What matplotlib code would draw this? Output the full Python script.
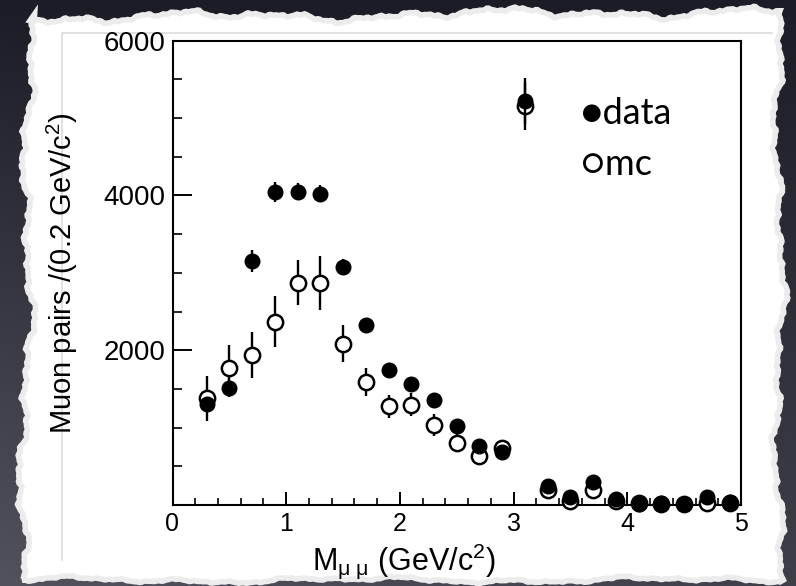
import numpy as np
import matplotlib
matplotlib.use("Agg")
import matplotlib.pyplot as plt
from matplotlib.ticker import MultipleLocator, FixedLocator
from matplotlib.patches import Polygon

plt.rcParams['font.family'] = ['Liberation Sans', 'DejaVu Sans']
plt.rcParams['mathtext.fontset'] = 'custom'
plt.rcParams['mathtext.rm'] = 'Liberation Sans'
plt.rcParams['mathtext.it'] = 'Liberation Sans'

# ---- data ----
mass = [0.3, 0.5, 0.7, 0.9, 1.1, 1.3, 1.5, 1.7, 1.9, 2.1, 2.3, 2.5, 2.7, 2.9,
        3.1, 3.3, 3.5, 3.7, 3.9, 4.1, 4.3, 4.5, 4.7, 4.9]
data_vals = [1310, 1510, 3150, 4040, 4050, 4020, 3080, 2330, 1745, 1570, 1360, 1015,
             758, 685, 5220, 244, 106, 300, 73, 13, 22, 13, 106, 43]
data_err = [80, 120, 140, 130, 110, 110, 100, 90, 70, 60, 55, 50,
            45, 45, 300, 40, 35, 40, 30, 25, 25, 25, 30, 25]
mc_vals = [1380, 1765, 1935, 2370, 2870, 2870, 2085, 1590, 1275, 1295, 1035, 805,
           632, 740, 5150, 192, 55, 192, 55, 30, 13, 13, 30, 30]
mc_err = [290, 300, 300, 325, 290, 345, 235, 180, 145, 150, 145, 110,
          100, 100, 310, 60, 50, 60, 40, 30, 30, 30, 30, 30]

xlabel_text = r'M$_{\mathrm{\mu\ \mu}}$ (GeV/c$^{2}$)'
ylabel_text = r'Muon pairs /(0.2 GeV/c$^{2}$)'
legend_labels = ['\u25cfdata', '\u25cbmc']

W, H = 796, 586
fig = plt.figure(figsize=(W / 100, H / 100), dpi=100)

# ---- background: dark gradient with torn paper ----
bg = fig.add_axes([0, 0, 1, 1], zorder=0)
bg.set_xlim(0, W)
bg.set_ylim(H, 0)
bg.axis('off')
gy = np.linspace(0, 1, 200)[:, None]
gx = np.linspace(0, 1, 200)[None, :]
top = np.array([0x1c, 0x1c, 0x26]) / 255
bot = np.array([0x52, 0x52, 0x5c]) / 255
t = (gy * (1 - 0.35 * gx))[..., None]
grad = top * (1 - t) + bot * t
bg.imshow(grad, extent=[0, W, H, 0], aspect='auto', zorder=0)


def wobble(s, amp, p):
    freqs = [0.021, 0.057, 0.113, 0.237, 0.519, 0.893]
    weights = [1.0, 0.7, 0.45, 0.3, 0.18, 0.12]
    out = np.zeros_like(s)
    for k, (f, w) in enumerate(zip(freqs, weights)):
        out += w * np.sin(s * f + p * (k + 1) * 1.7)
    return amp * out / sum(weights)


s_top = np.linspace(30, 780, 400)
s_right = np.linspace(14, 580, 300)
s_bot = np.linspace(780, 22, 400)
s_left = np.linspace(580, 14, 300)
top_edge = np.column_stack([s_top, 15 + wobble(s_top, 9, 0.3) - 0.01 * (s_top - 400)])
right_edge = np.column_stack([779 + wobble(s_right, 10, 1.1), s_right])
bot_edge = np.column_stack([s_bot, 580 + wobble(s_bot, 5, 2.0)])
left_edge = np.column_stack([27 + wobble(s_left, 11, 0.7) - 0.012 * (s_left - 300), s_left])
paper = np.vstack([top_edge, right_edge, bot_edge, left_edge])
bg.add_patch(Polygon(paper, closed=True, facecolor='white', edgecolor='#ececec',
                     linewidth=4, zorder=1))
# faint scan frame
bg.plot([62, 62, 772], [560, 33, 33], color='#dcdcdc', lw=1.2, zorder=2)

# ---- main chart ----
x0, x1 = 172.5, 741.0
y0, y1 = 505.0, 40.7
ax = fig.add_axes([x0 / W, 1 - y0 / H, (x1 - x0) / W, (y0 - y1) / H], zorder=1)
ax.set_facecolor('white')

ax.errorbar(mass, mc_vals, yerr=mc_err, fmt='o', color='black', ms=11,
            mfc='white', mec='black', mew=1.8, elinewidth=1.7, capsize=0,
            zorder=3, clip_on=False)
ax.errorbar(mass, data_vals, yerr=data_err, fmt='o', color='black', ms=10.5,
            mfc='black', mec='black', mew=1.0, elinewidth=1.7, capsize=0,
            zorder=4, clip_on=False)

ax.set_xlim(0, 5)
ax.set_ylim(0, 6000)
ax.xaxis.set_major_locator(MultipleLocator(1))
ax.xaxis.set_minor_locator(MultipleLocator(0.2))
ax.yaxis.set_major_locator(FixedLocator([2000, 4000, 6000]))
ax.yaxis.set_minor_locator(MultipleLocator(500))
ax.tick_params(axis='both', which='both', direction='in', colors='black',
               top=False, right=False, pad=5)
ax.tick_params(axis='x', which='major', length=9.5, width=1.4, labelsize=18)
ax.tick_params(axis='x', which='minor', length=5, width=1.2)
ax.tick_params(axis='y', which='major', length=13.5, width=1.4, labelsize=20)
ax.tick_params(axis='y', which='minor', length=6.5, width=1.2)
for sp in ax.spines.values():
    sp.set_linewidth(1.5)
    sp.set_color('black')

ax.set_xlabel(xlabel_text, fontsize=22, ha='left', va='baseline')
ax.xaxis.set_label_coords((312 - x0) / (x1 - x0), -(570 - y0) / (y0 - y1))
ax.set_ylabel(ylabel_text, fontsize=21)
ax.yaxis.set_label_coords(-(x0 - 80) / (x1 - x0), 0.5)

# hand-drawn style legend
ax.text(3.59, 4923, legend_labels[0], fontsize=26, family=['Lato', 'DejaVu Sans'],
        va='baseline', ha='left', zorder=5)
ax.text(3.59, 4269, legend_labels[1], fontsize=26, family=['Lato', 'DejaVu Sans'],
        va='baseline', ha='left', zorder=5)

fig.savefig('out.png', dpi=100)
